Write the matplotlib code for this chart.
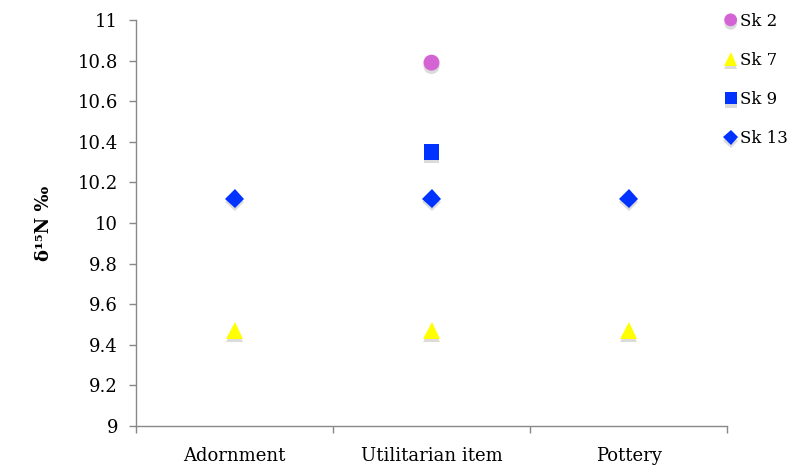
import matplotlib
matplotlib.use("Agg")
import matplotlib.pyplot as plt
import matplotlib.patheffects as pe

plt.rcParams['font.family'] = ['DejaVu Serif', 'Liberation Serif']

categories = ["Adornment", "Utilitarian item", "Pottery"]
series_names = ["Sk 2", "Sk 7", "Sk 9", "Sk 13"]
sk2 = [None, 10.79, None]
sk7 = [9.47, 9.47, 9.47]
sk9 = [None, 10.35, None]
sk13 = [10.12, 10.12, 10.12]
y_ticks = [9, 9.2, 9.4, 9.6, 9.8, 10, 10.2, 10.4, 10.6, 10.8, 11]
y_tick_labels = ["9", "9.2", "9.4", "9.6", "9.8", "10", "10.2", "10.4", "10.6", "10.8", "11"]

styles = [
    dict(marker='o', color='#D464D4', ms=11.5),
    dict(marker='^', color='#FFFF00', ms=12),
    dict(marker='s', color='#0033FF', ms=11),
    dict(marker='D', color='#0033FF', ms=9.5),
]

fig = plt.figure(figsize=(7.92, 4.65), dpi=100)
ax = fig.add_axes([136/792, 1-426/465, (727-136)/792, (426-20)/465])

shadow = [pe.SimplePatchShadow(offset=(0, -2.5), shadow_rgbFace='#999999', alpha=0.35), pe.Normal()]
for name, vals, st in zip(series_names, [sk2, sk7, sk9, sk13], styles):
    xs = [i for i, v in enumerate(vals) if v is not None]
    ys = [v for v in vals if v is not None]
    ax.plot(xs, ys, linestyle='none', marker=st['marker'], color=st['color'],
            markersize=st['ms'], markeredgewidth=0, label=name, path_effects=shadow)

fs = 13
ax.set_xlim(-0.5, 2.5)
ax.set_ylim(9, 11)
ax.set_yticks(y_ticks)
ax.set_yticklabels(y_tick_labels, fontsize=fs)
ax.set_xticks(range(len(categories)))
ax.set_xticklabels(categories, fontsize=fs)
ax.set_xticks([-0.5, 0.5, 1.5, 2.5], minor=True)
ax.tick_params(axis='x', which='major', length=0, pad=15)
ax.tick_params(axis='x', which='minor', length=5, color='#888888', width=1, direction='out')
ax.tick_params(axis='y', length=5, color='#888888', width=1, direction='out', pad=8)
for s in ['top', 'right']:
    ax.spines[s].set_visible(False)
for s in ['left', 'bottom']:
    ax.spines[s].set_color('#888888')
    ax.spines[s].set_linewidth(1)

ax.set_ylabel("δ¹⁵N ‰", fontsize=fs, fontweight='bold', labelpad=18)

leg = fig.legend(loc='upper left', bbox_to_anchor=(719/792, 1-6/465), frameon=False,
                 fontsize=12, handlelength=0.6, handletextpad=0.25, labelspacing=1.33,
                 borderaxespad=0, markerscale=0.8)

fig.savefig("out.png", dpi=100)
